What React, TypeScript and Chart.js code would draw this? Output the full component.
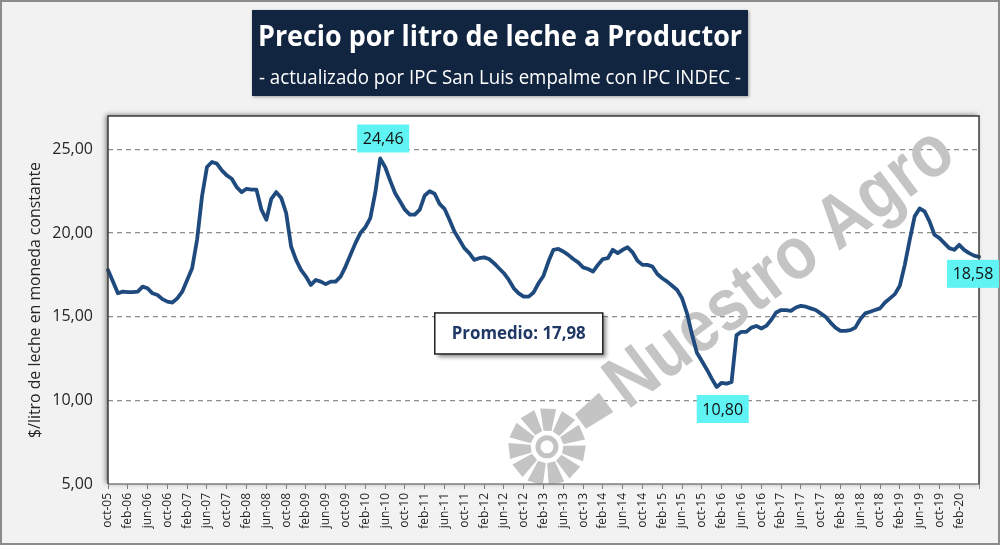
import React, { useEffect, useRef } from 'react';
import { Chart, registerables } from 'chart.js';

Chart.register(...registerables);

// ---------- data ----------
const MONTHS = ['ene', 'feb', 'mar', 'abr', 'may', 'jun', 'jul', 'ago', 'sep', 'oct', 'nov', 'dic'];
const START_MONTH = 9; // oct
const START_YEAR = 2005;

// $/litro de leche en moneda constante, monthly from oct-05
const PRICES = [
  17.8, 17.1, 16.4, 16.5, 16.47, 16.47, 16.5, 16.8, 16.7, 16.4, 16.3, 16.05,
  15.9, 15.85, 16.1, 16.5, 17.2, 17.9, 19.6, 22.2, 23.95, 24.25, 24.15, 23.75,
  23.45, 23.25, 22.75, 22.45, 22.65, 22.6, 22.6, 21.4, 20.8, 22.05, 22.45, 22.1,
  21.2, 19.2, 18.4, 17.8, 17.4, 16.9, 17.2, 17.1, 16.95, 17.1, 17.1, 17.4,
  18.0, 18.7, 19.4, 20.0, 20.35, 20.9, 22.4, 24.46, 23.95, 23.15, 22.4, 21.9,
  21.4, 21.1, 21.1, 21.4, 22.25, 22.5, 22.35, 21.75, 21.45, 20.8, 20.1, 19.6,
  19.1, 18.8, 18.4, 18.5, 18.55, 18.45, 18.2, 17.9, 17.6, 17.2, 16.7, 16.4,
  16.2, 16.2, 16.45, 17.0, 17.45, 18.3, 19.0, 19.05, 18.9, 18.7, 18.45, 18.25,
  17.95, 17.85, 17.7, 18.1, 18.45, 18.5, 19.0, 18.8, 19.0, 19.15, 18.85, 18.35,
  18.1, 18.1, 18.0, 17.55, 17.3, 17.1, 16.85, 16.6, 16.1, 15.2, 13.95, 12.85,
  12.35, 11.85, 11.3, 10.8, 11.05, 11.0, 11.1, 13.9, 14.1, 14.1, 14.35, 14.45,
  14.3, 14.45, 14.8, 15.25, 15.4, 15.4, 15.35, 15.55, 15.65, 15.6, 15.5, 15.4,
  15.2, 15.0, 14.65, 14.35, 14.15, 14.15, 14.2, 14.35, 14.85, 15.2, 15.3, 15.4,
  15.5, 15.85, 16.1, 16.35, 16.85, 18.1, 19.6, 21.0, 21.47, 21.3, 20.7, 19.9,
  19.7, 19.4, 19.1, 19.0, 19.3, 19.0, 18.8, 18.65, 18.58,
];

const TICK_LABELS = [
  'oct-05', 'feb-06', 'jun-06', 'oct-06', 'feb-07', 'jun-07', 'oct-07', 'feb-08', 'jun-08', 'oct-08',
  'feb-09', 'jun-09', 'oct-09', 'feb-10', 'jun-10', 'oct-10', 'feb-11', 'jun-11', 'oct-11', 'feb-12',
  'jun-12', 'oct-12', 'feb-13', 'jun-13', 'oct-13', 'feb-14', 'jun-14', 'oct-14', 'feb-15', 'jun-15',
  'oct-15', 'feb-16', 'jun-16', 'oct-16', 'feb-17', 'jun-17', 'oct-17', 'feb-18', 'jun-18', 'oct-18',
  'feb-19', 'jun-19', 'oct-19', 'feb-20',
];

const Y_TICKS = [5, 10, 15, 20, 25];
const AVERAGE = 17.98;

const TITLE = 'Precio por litro de leche a Productor';
const SUBTITLE = '- actualizado por IPC San Luis empalme con IPC INDEC -';
const Y_TITLE = '$/litro de leche en moneda constante';
const WATERMARK = 'Nuestro Agro';

const CATEGORIES = PRICES.map((_, i) => {
  const m = (START_MONTH + i) % 12;
  const y = START_YEAR + Math.floor((START_MONTH + i) / 12);
  return `${MONTHS[m]}-${String(y).slice(2)}`;
});

const FONT = '"Open Sans", "DejaVu Sans", sans-serif';
const fmt = (v: number) => v.toFixed(2).replace('.', ',');

function drawFitted(ctx: CanvasRenderingContext2D, text: string, font: string, cx: number, y: number, target: number) {
  ctx.save();
  ctx.font = font;
  const w = ctx.measureText(text).width;
  ctx.translate(cx, y);
  ctx.scale(target / w, 1);
  ctx.textAlign = 'center';
  ctx.textBaseline = 'alphabetic';
  ctx.fillText(text, 0, 0);
  ctx.restore();
}

const decorPlugin = {
  id: 'decor',
  beforeDraw(chart: any) {
    const { ctx, chartArea: a, width, height } = chart;
    ctx.save();
    ctx.fillStyle = '#f2f2f2';
    ctx.fillRect(0, 0, width, height);
    ctx.strokeStyle = '#8c8c8c';
    ctx.lineWidth = 2;
    ctx.strokeRect(1, 1, width - 2, height - 2);

    // title box
    ctx.save();
    ctx.shadowColor = 'rgba(0,0,0,0.35)';
    ctx.shadowBlur = 3;
    ctx.shadowOffsetX = 1;
    ctx.shadowOffsetY = 1;
    ctx.fillStyle = '#112541';
    ctx.fillRect(252, 10, 496, 86);
    ctx.restore();
    ctx.fillStyle = '#ffffff';
    drawFitted(ctx, TITLE, `bold 28px ${FONT}`, 500, 46, 484);
    drawFitted(ctx, SUBTITLE, `20px ${FONT}`, 500, 84, 482);

    // y axis title
    ctx.save();
    ctx.fillStyle = '#262626';
    ctx.translate(40, (a.top + a.bottom) / 2);
    ctx.rotate(-Math.PI / 2);
    drawFitted(ctx, Y_TITLE, `16px ${FONT}`, 0, 0, 276);
    ctx.restore();

    // plot area background with shadow
    ctx.shadowColor = 'rgba(0,0,0,0.5)';
    ctx.shadowBlur = 5;
    ctx.shadowOffsetX = -2;
    ctx.shadowOffsetY = -1;
    ctx.fillStyle = '#ffffff';
    ctx.fillRect(a.left, a.top, a.right - a.left, a.bottom - a.top);
    ctx.restore();
  },
  beforeDatasetsDraw(chart: any) {
    const { ctx, chartArea: a } = chart;
    const w = a.right - a.left;
    const h = a.bottom - a.top;
    ctx.save();
    ctx.beginPath();
    ctx.rect(a.left, a.top, w, h);
    ctx.clip();
    const col = '#c4c4c4';
    ctx.fillStyle = col;
    ctx.strokeStyle = col;

    // watermark text
    ctx.save();
    ctx.translate(a.left + 0.7727 * w, a.top + 0.4158 * h);
    ctx.rotate((-37 * Math.PI) / 180);
    ctx.font = `bold 74px "Liberation Sans", Arial, sans-serif`;
    const tw = ctx.measureText(WATERMARK).width;
    ctx.scale(415 / tw, 1);
    ctx.textAlign = 'center';
    ctx.textBaseline = 'middle';
    ctx.fillText(WATERMARK, 0, 0);
    ctx.restore();

    // logo
    ctx.save();
    ctx.translate(a.left + 0.504 * w, a.top + 0.899 * h);
    ctx.lineWidth = 5;
    ctx.beginPath();
    ctx.arc(0, 0, 9, 0, Math.PI * 2);
    ctx.stroke();
    const blades = 11;
    for (let k = 0; k < blades; k++) {
      const ang = ((k * 360) / blades + 10) * Math.PI / 180;
      ctx.save();
      ctx.rotate(ang);
      ctx.beginPath();
      ctx.moveTo(16, -4);
      ctx.lineTo(38, -8);
      ctx.lineTo(38, 8);
      ctx.lineTo(16, 4);
      ctx.closePath();
      ctx.fill();
      ctx.restore();
    }
    // flag piece
    ctx.rotate((-37 * Math.PI) / 180);
    ctx.beginPath();
    ctx.moveTo(42, -9);
    ctx.lineTo(74, -12);
    ctx.lineTo(74, 12);
    ctx.lineTo(42, 9);
    ctx.closePath();
    ctx.fill();
    ctx.restore();

    ctx.restore();
  },
  afterDatasetsDraw(chart: any) {
    const { ctx, chartArea: a, scales } = chart;
    ctx.save();
    // plot border
    ctx.lineWidth = 1.5;
    ctx.strokeStyle = '#7f7f7f';
    ctx.beginPath();
    ctx.moveTo(a.left, a.bottom);
    ctx.lineTo(a.right, a.bottom);
    ctx.stroke();
    ctx.strokeStyle = '#3a3a3a';
    ctx.beginPath();
    ctx.moveTo(a.left, a.bottom);
    ctx.lineTo(a.left, a.top);
    ctx.lineTo(a.right, a.top);
    ctx.lineTo(a.right, a.bottom);
    ctx.stroke();

    // data labels
    const meta = chart.getDatasetMeta(0);
    const maxIdx = PRICES.indexOf(Math.max(...PRICES));
    const minIdx = PRICES.indexOf(Math.min(...PRICES));
    const lastIdx = PRICES.length - 1;
    const items = [
      { i: maxIdx, dx: 3, dy: -20 },
      { i: minIdx, dx: 6, dy: 22 },
      { i: lastIdx, dx: -6, dy: 17 },
    ];
    ctx.font = `16px ${FONT}`;
    ctx.textAlign = 'center';
    ctx.textBaseline = 'middle';
    for (const it of items) {
      const p = meta.data[it.i];
      const cx = p.x + it.dx;
      const cy = p.y + it.dy;
      ctx.fillStyle = '#5ff3f3';
      ctx.fillRect(cx - 26, cy - 14, 52, 28);
      ctx.fillStyle = '#111111';
      ctx.fillText(fmt(PRICES[it.i]), cx, cy + 1);
    }

    // Promedio box
    const bx = scales.x.getPixelForValue(83);
    const by = scales.y.getPixelForValue(14);
    const bw = 168;
    const bh = 41;
    ctx.save();
    ctx.shadowColor = 'rgba(0,0,0,0.45)';
    ctx.shadowBlur = 4;
    ctx.shadowOffsetX = 3;
    ctx.shadowOffsetY = 3;
    ctx.fillStyle = '#ffffff';
    ctx.fillRect(bx - bw / 2, by - bh / 2, bw, bh);
    ctx.restore();
    ctx.strokeStyle = '#222222';
    ctx.lineWidth = 1.5;
    ctx.strokeRect(bx - bw / 2, by - bh / 2, bw, bh);
    ctx.fillStyle = '#1f3864';
    ctx.save();
    ctx.font = `bold 17px ${FONT}`;
    const txt = `Promedio: ${fmt(AVERAGE)}`;
    const w = ctx.measureText(txt).width;
    ctx.translate(bx, by + 1);
    ctx.scale(134 / w, 1);
    ctx.textAlign = 'center';
    ctx.textBaseline = 'middle';
    ctx.fillText(txt, 0, 0);
    ctx.restore();
    ctx.restore();
  },
};

export default function App() {
  const ref = useRef<HTMLCanvasElement | null>(null);

  useEffect(() => {
    const canvas = ref.current;
    if (!canvas) return;
    const chart = new Chart(canvas, {
      type: 'line',
      data: {
        labels: CATEGORIES,
        datasets: [
          {
            data: PRICES,
            borderColor: '#1f4a7e',
            borderWidth: 3.8,
            pointRadius: 0,
            tension: 0,
            fill: false,
            borderJoinStyle: 'round',
            borderCapStyle: 'round',
          },
        ],
      },
      options: {
        responsive: false,
        animation: false,
        layout: { padding: { top: 116, right: 21, left: 0, bottom: 0 } },
        plugins: {
          legend: { display: false },
          tooltip: { enabled: false },
          title: { display: false },
        },
        scales: {
          x: {
            type: 'category',
            offset: false,
            afterFit: (s: any) => {
              s.height = 61;
            },
            grid: {
              drawOnChartArea: false,
              drawTicks: true,
              tickLength: 5,
              color: (c: any) => (c.index % 4 === 0 ? '#7f7f7f' : 'rgba(0,0,0,0)'),
            },
            border: { display: false },
            ticks: {
              autoSkip: false,
              maxRotation: 90,
              minRotation: 90,
              padding: 4,
              color: '#262626',
              font: { family: FONT, size: 12 },
              callback: (_v: any, idx: number) => {
                const lab = CATEGORIES[idx];
                return TICK_LABELS.includes(lab) ? lab : '';
              },
            },
          },
          y: {
            min: 5,
            max: 27,
            afterFit: (s: any) => {
              s.width = 108;
            },
            afterBuildTicks: (s: any) => {
              s.ticks = Y_TICKS.map((v) => ({ value: v }));
            },
            grid: {
              drawTicks: false,
              color: (c: any) => (c.tick && c.tick.value === 5 ? 'rgba(0,0,0,0)' : '#8c8c8c'),
              lineWidth: 1.2,
            },
            border: { display: false, dash: [5, 4] },
            ticks: {
              padding: 15,
              color: '#262626',
              font: { family: FONT, size: 16 },
              callback: (v: any) => fmt(Number(v)),
            },
          },
        },
      },
      plugins: [decorPlugin],
    } as any);
    return () => chart.destroy();
  }, []);

  return (
    <div style={{ position: 'fixed', left: 0, top: 0, width: 1000, height: 545 }}>
      <canvas ref={ref} width={1000} height={545} style={{ width: 1000, height: 545, display: 'block' }} />
    </div>
  );
}
